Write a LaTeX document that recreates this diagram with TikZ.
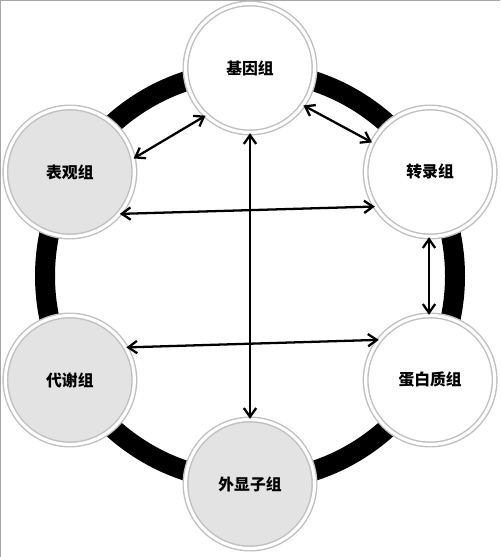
\documentclass[tikz,border=0pt]{standalone}
\usepackage{fontspec}
\newfontfamily\cjk{Noto Sans CJK SC}
\usetikzlibrary{arrows.meta,shadows,calc}
\begin{document}
\begin{tikzpicture}[x=0.02cm, y=0.02cm,
  omic/.style={shape=circle, draw=gray!50, line width=0.8pt, double=white, double distance=1.8pt, minimum size=2.58cm, inner sep=0pt, font=\cjk\bfseries\fontsize{9}{11}\selectfont, drop shadow={opacity=0.3, shadow xshift=0.8pt, shadow yshift=-1.2pt}},
  light/.style={omic, fill=white},
  grey/.style={omic, fill=gray!22},
  link/.style={{Straight Barb[length=5pt,width=7pt]}-{Straight Barb[length=5pt,width=7pt]}, line width=1.3pt}]
\useasboundingbox (0,0) rectangle (500,557);
\draw[gray!70, line width=1pt] (0,0) -- (0,557) -- (500,557);
\coordinate (C) at (250,281);
\draw[line width=0.4cm] (C) circle (205);
\node[light] (genome) at ($(C)+(90:208)$) {基因组};
\node[light] (transcriptome) at ($(C)+(30:208)$) {转录组};
\node[light] (proteome) at ($(C)+(-30:208)$) {蛋白质组};
\node[grey] (exome) at ($(C)+(-90:208)$) {外显子组};
\node[grey] (metabolome) at ($(C)+(210:208)$) {代谢组};
\node[grey] (epigenome) at ($(C)+(150:208)$) {表观组};
\path [link] (genome.-133) edge (epigenome.12);
\path [link] (genome.-35) edge (transcriptome.153);
\path [link] (epigenome.-40) edge (transcriptome.-148);
\path [link] (genome.south) edge (exome.north);
\path [link] (transcriptome.-91) edge (proteome.91);
\path [link] (metabolome.30) edge (proteome.142);
\end{tikzpicture}
\end{document}
